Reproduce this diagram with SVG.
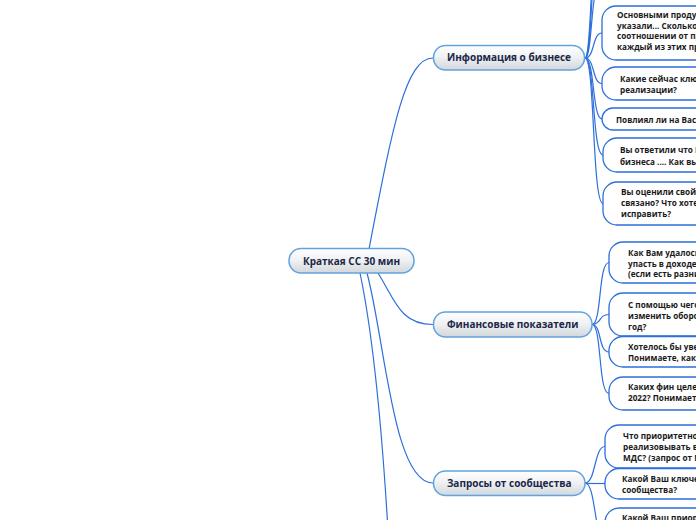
<svg xmlns="http://www.w3.org/2000/svg" width="696" height="520" viewBox="0 0 696 520">
<defs>
<linearGradient id="g" x1="0" y1="0" x2="0" y2="1">
<stop offset="0" stop-color="#ffffff"/>
<stop offset="0.5" stop-color="#eef0f2"/>
<stop offset="1" stop-color="#d2d7db"/>
</linearGradient>
</defs>
<style>
.main rect{fill:url(#g);stroke:#62a2de;stroke-width:1.5}
.main text{font-family:"Open Sans","DejaVu Sans",sans-serif;font-weight:700;font-size:10px;fill:#1b2746;text-anchor:middle}
.sub rect{fill:#ffffff;stroke:#2d6fdb;stroke-width:1.3}
.sub text{font-family:"Open Sans","DejaVu Sans",sans-serif;font-weight:700;font-size:8.2px;fill:#1a1a1a}
.links path{fill:none;stroke:#2d6fdb;stroke-width:1.2}
</style>
<rect width="696" height="520" fill="#ffffff"/>
<g class="links" id="connectors">
<path d="M369,249 C392,130 405,58 433,58"/>
<path d="M378,273 C395,300 400,324.5 433,324.5"/>
<path d="M367,273 C385,340 393,483 433,483"/>
<path d="M360,273 C372,330 382,430 388,530"/>
<path d="M585,58 C595,58 592,33 602,33"/>
<path d="M585,58 C595,58 592,83.5 602,83.5"/>
<path d="M585,58 C595,58 592,119 602,119"/>
<path d="M585,58 C595,58 592,155 603,155"/>
<path d="M585,58 C595,58 592,203.5 603,203.5"/>
<path d="M585,58 C593,58 590,-20 602,-20"/>
<path d="M585,58 C593,58 590,-60 602,-60"/>
<path d="M585,58 C593,58 590,-100 602,-100"/>
<path d="M592,324.5 C602,324.5 598,262.5 609,262.5"/>
<path d="M592,324.5 C602,324.5 598,314.5 609,314.5"/>
<path d="M592,324.5 C602,324.5 598,352 609,352"/>
<path d="M592,324.5 C602,324.5 598,393.5 609,393.5"/>
<path d="M585,483 C596,483 594,446.5 605,446.5"/>
<path d="M585,483.5 L605,483.5"/>
<path d="M585,483 C596,483 594,540 605,540"/>
</g>
<g class="main" id="central"><rect x="289" y="248.5" width="125" height="24.5" rx="12"/><text x="351.5" y="264.5">Краткая СС 30 мин</text></g>
<g class="main" id="info"><rect x="433.5" y="45.5" width="151" height="24.5" rx="12"/><text x="509" y="61.3">Информация о бизнесе</text></g>
<g class="main" id="finance"><rect x="433.5" y="312" width="158.5" height="25" rx="12"/><text x="512.7" y="328.2">Финансовые показатели</text></g>
<g class="main" id="requests"><rect x="433.5" y="471" width="151.5" height="24.5" rx="12"/><text x="509.2" y="486.8">Запросы от сообщества</text></g>
<g class="sub" id="q1"><rect x="602" y="6" width="200" height="54" rx="14"/><text><tspan x="617" y="18">Основными продук</tspan><tspan x="617" y="28.7">указали... Сколько</tspan><tspan x="617" y="39.3">соотношении от пр</tspan><tspan x="617" y="50">каждый из этих пр</tspan></text></g>
<g class="sub" id="q2"><rect x="602" y="67" width="200" height="33" rx="14"/><text><tspan x="620" y="82">Какие сейчас клю</tspan><tspan x="620" y="92.5">реализации?</tspan></text></g>
<g class="sub" id="q3"><rect x="602" y="108" width="200" height="22" rx="11"/><text x="616" y="122.5">Повлиял ли на Вас к</text></g>
<g class="sub" id="q4"><rect x="603" y="138" width="200" height="34" rx="14"/><text><tspan x="620" y="153">Вы ответили что В</tspan><tspan x="620" y="164.5">бизнеса .... Как вы</tspan></text></g>
<g class="sub" id="q5"><rect x="603" y="182" width="200" height="43" rx="14"/><text><tspan x="621" y="195">Вы оценили свой</tspan><tspan x="621" y="206">связано? Что хоте</tspan><tspan x="621" y="217">исправить?</tspan></text></g>
<g class="sub" id="f1"><rect x="609" y="242" width="200" height="41" rx="14"/><text><tspan x="628" y="256">Как Вам удалось</tspan><tspan x="628" y="266.5">упасть в доходе</tspan><tspan x="628" y="277">(если есть разни</tspan></text></g>
<g class="sub" id="f2"><rect x="609" y="293" width="200" height="43" rx="14"/><text><tspan x="628" y="307.5">С помощью чего</tspan><tspan x="628" y="318.5">изменить оборо</tspan><tspan x="628" y="329.5">год?</tspan></text></g>
<g class="sub" id="f3"><rect x="609" y="336.5" width="200" height="30.5" rx="14"/><text><tspan x="628" y="349.5">Хотелось бы уве</tspan><tspan x="628" y="360.5">Понимаете, как</tspan></text></g>
<g class="sub" id="f4"><rect x="609" y="377" width="200" height="33" rx="14"/><text><tspan x="628" y="390">Каких фин целе</tspan><tspan x="628" y="401">2022? Понимаете</tspan></text></g>
<g class="sub" id="r1"><rect x="605" y="425" width="200" height="43" rx="14"/><text><tspan x="623" y="439">Что приоритетно</tspan><tspan x="623" y="450">реализовывать в</tspan><tspan x="623" y="461">МДС? (запрос от М</tspan></text></g>
<g class="sub" id="r2"><rect x="605" y="468.5" width="200" height="30.5" rx="14"/><text><tspan x="622" y="482">Какой Ваш ключе</tspan><tspan x="622" y="493">сообщества?</tspan></text></g>
<g class="sub" id="r3"><rect x="605" y="508" width="200" height="30" rx="14"/><text x="622" y="521">Какой Ваш приор</text></g>
</svg>
